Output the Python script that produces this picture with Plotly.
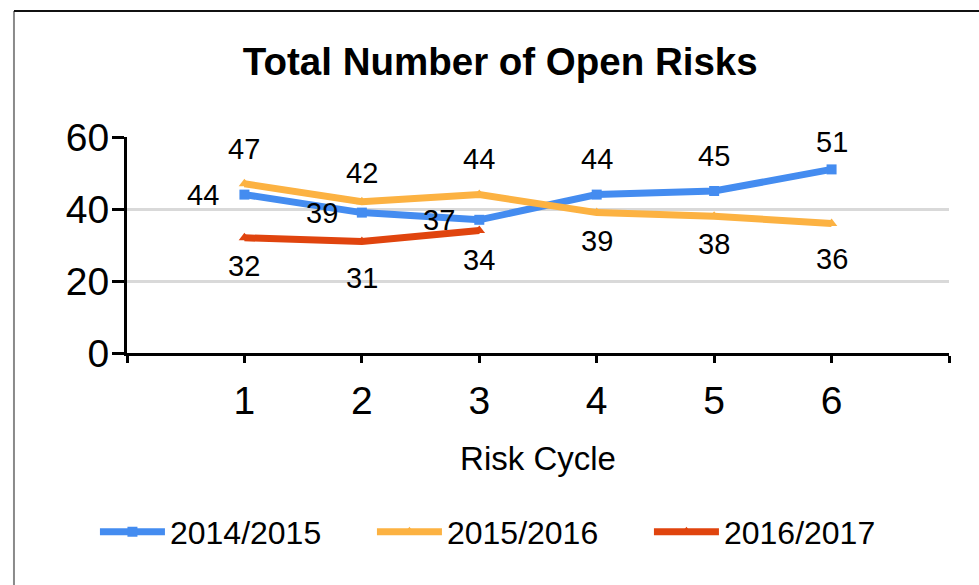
import plotly.graph_objects as go

# ---- data ----
cycles = [1, 2, 3, 4, 5, 6]
series_names = ["2014/2015", "2015/2016", "2016/2017"]
risks_2014_2015 = [44, 39, 37, 44, 45, 51]
risks_2015_2016 = [47, 42, 44, 39, 38, 36]
risks_2016_2017 = [32, 31, 34]
y_ticks = [0, 20, 40, 60]
x_tick_labels = ["", "1", "2", "3", "4", "5", "6", ""]

# ---- styling ----
colors = ["#448cf0", "#fcb242", "#e0440e"]
symbols = ["square", "triangle-up", "triangle-up"]
# label offsets (xshift, yshift) in pixels per point
label_offsets = [
    [(-41, 0), (-40, 0), (-40, 0), (0, 36), (0, 35), (0, 27)],
    [(0, 35), (0, 29), (0, 36), (0, -28), (0, -28), (0, -36)],
    [(0, -28), (0, -37), (0, -29)],
]
FONT = "Liberation Sans, Arial, sans-serif"

all_series = [risks_2014_2015, risks_2015_2016, risks_2016_2017]

fig = go.Figure()
annotations = []
for name, vals, col, sym, offs in zip(series_names, all_series, colors, symbols, label_offsets):
    xs = cycles[:len(vals)]
    fig.add_trace(go.Scatter(
        x=xs, y=vals, name=name, mode="lines+markers",
        line=dict(color=col, width=7),
        marker=dict(color=col, size=10, symbol=sym),
        cliponaxis=False,
    ))
    for x, v, (dx, dy) in zip(xs, vals, offs):
        annotations.append(dict(
            x=x, y=v, xref="x", yref="y", text=str(v), showarrow=False,
            xshift=dx, yshift=dy, font=dict(family=FONT, size=29, color="#000000"),
            xanchor="center", yanchor="middle",
        ))

# frame lines (left and top edges of the chart border)
shapes = [
    dict(type="line", xref="paper", yref="paper", x0=-0.1375, x1=-0.1375, y0=1.583, y1=-1.2,
         line=dict(color="#8a8a8a", width=2)),
    dict(type="line", xref="paper", yref="paper", x0=-0.1375, x1=1.1, y0=1.583, y1=1.583,
         line=dict(color="#111111", width=2)),
]

fig.update_layout(
    width=979, height=585,
    margin=dict(l=127, r=30, t=137, b=232),
    paper_bgcolor="white", plot_bgcolor="white",
    font=dict(family=FONT, color="#000000"),
    title=dict(text="<b>Total Number of Open Risks</b>", x=0.511, xanchor="center",
               y=0.894, yanchor="middle", font=dict(family=FONT, size=38.5, color="#000000")),
    xaxis=dict(
        range=[0, 7], tickmode="array", tickvals=list(range(0, 8)), ticktext=x_tick_labels,
        showgrid=False, zeroline=False, showline=True, linecolor="#000000", linewidth=3,
        ticks="outside", ticklen=7, tickwidth=3, tickcolor="#000000",
        tickfont=dict(family=FONT, size=39, color="#000000"), ticklabelstandoff=4,
        title=dict(text="Risk Cycle", font=dict(family=FONT, size=33, color="#000000"), standoff=27),
    ),
    yaxis=dict(
        range=[0, 60], tickmode="array", tickvals=y_ticks,
        showgrid=True, gridcolor="#d9d9d9", gridwidth=3, zeroline=False,
        showline=True, linecolor="#000000", linewidth=3,
        ticks="outside", ticklen=12, tickwidth=3, tickcolor="#000000",
        tickfont=dict(family=FONT, size=39, color="#000000"), ticklabelstandoff=-5,
    ),
    legend=dict(orientation="h", x=-0.039, xanchor="left", y=-0.829, yanchor="middle",
                font=dict(family=FONT, size=32, color="#000000"), itemwidth=65,
                entrywidth=197, bgcolor="rgba(0,0,0,0)"),
    annotations=annotations,
    shapes=shapes,
)

fig.write_html("out.html", config={"displayModeBar": False},
               post_script="document.body.style.margin='0';")
